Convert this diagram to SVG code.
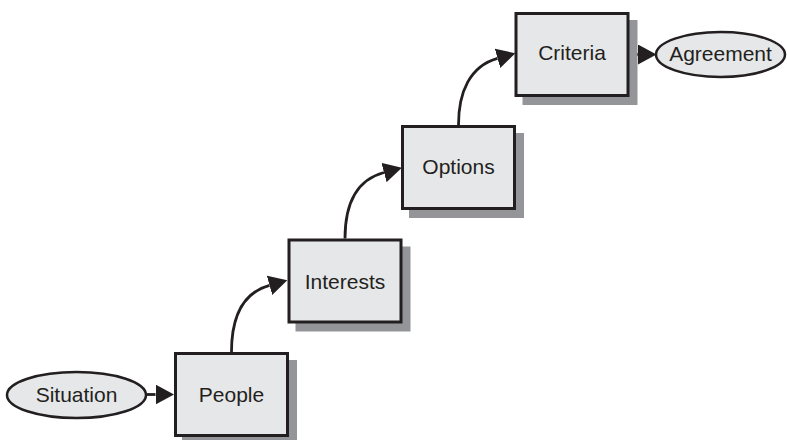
<svg xmlns="http://www.w3.org/2000/svg" width="787" height="440" viewBox="0 0 787 440">
  <style>
    .shadow { fill: #939598; stroke: none; }
    .box { fill: #e6e7e8; stroke: #231f20; stroke-width: 3; }
    .oval { fill: #e6e7e8; stroke: #231f20; stroke-width: 2.5; }
    .label { font-family: "Liberation Sans", Arial, sans-serif; font-size: 21px; fill: #231f20; text-anchor: middle; }
    .link { fill: none; stroke: #231f20; stroke-width: 2.8; marker-end: url(#head); }
  </style>
  <defs>
    <marker id="head" markerUnits="userSpaceOnUse" viewBox="0 0 18.5 20" refX="0" refY="10" markerWidth="18.5" markerHeight="20" orient="auto">
      <path d="M0,0 L18.5,10 L0,20 Z" fill="#231f20"/>
    </marker>
  </defs>

  <!-- connectors -->
  <g id="connectors">
    <path class="link" d="M146,394.5 L155.5,394.5"/>
    <path class="link" d="M231.5,352 C231.5,318 242,293 269.5,285.3"/>
    <path class="link" d="M345,238.5 C345,205 356,180 384,172.5"/>
    <path class="link" d="M458.5,125 C458.5,92 470,66 497.5,58.3"/>
    <path class="link" d="M630,54.5 L638,54.5"/>
  </g>

  <g id="situation">
    <ellipse class="oval" cx="76.5" cy="395" rx="69.5" ry="23"/>
    <text class="label" x="76.5" y="402">Situation</text>
  </g>

  <g id="people">
    <rect class="shadow" x="182" y="360" width="115" height="85"/>
    <rect class="box" x="175.5" y="353.5" width="112" height="82"/>
    <text class="label" x="231.5" y="402">People</text>
  </g>

  <g id="interests">
    <rect class="shadow" x="295.5" y="246.5" width="115" height="85"/>
    <rect class="box" x="289" y="240" width="112" height="82"/>
    <text class="label" x="345" y="288.5">Interests</text>
  </g>

  <g id="options">
    <rect class="shadow" x="409" y="133" width="115" height="85"/>
    <rect class="box" x="402.5" y="126.5" width="112" height="82"/>
    <text class="label" x="458.5" y="174">Options</text>
  </g>

  <g id="criteria">
    <rect class="shadow" x="522.5" y="20" width="115" height="85"/>
    <rect class="box" x="516" y="13.5" width="112" height="82"/>
    <text class="label" x="572" y="60">Criteria</text>
  </g>

  <g id="agreement">
    <ellipse class="oval" cx="720.5" cy="54.5" rx="64.5" ry="22.5"/>
    <text class="label" x="720.5" y="61">Agreement</text>
  </g>
</svg>
